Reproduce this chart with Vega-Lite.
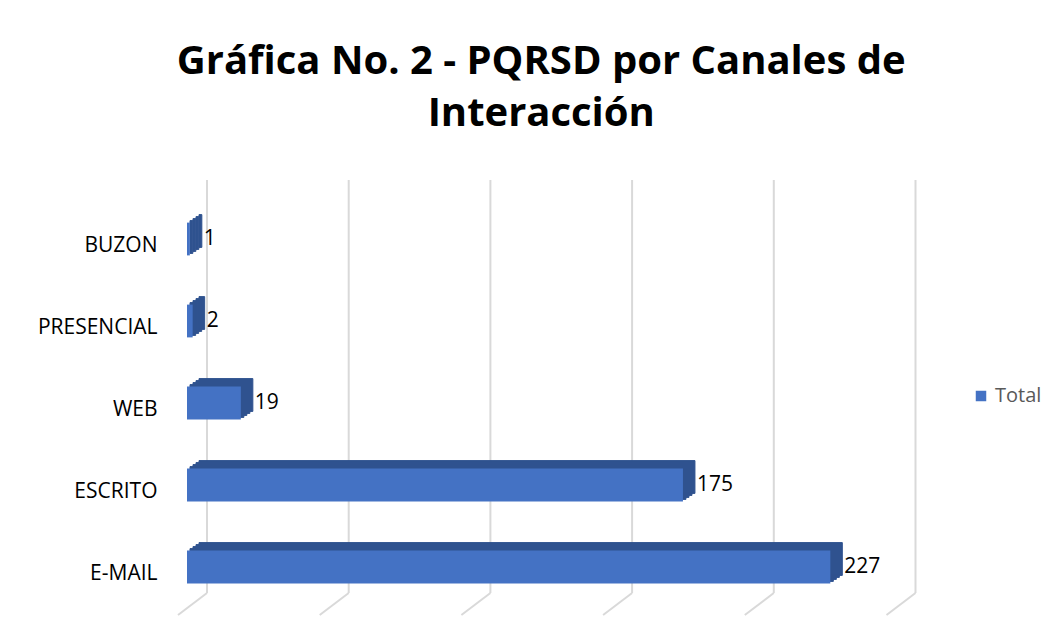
{
  "$schema": "https://vega.github.io/schema/vega-lite/v6.json",
  "width": 708.5,
  "height": 410,
  "autosize": {"type": "none"},
  "padding": {"left": 187, "top": 198, "right": 166.5, "bottom": 36},
  "background": "white",
  "config": {"view": {"stroke": null}, "font": "Open Sans"},
  "title": {
    "text": ["Gráfica No. 2 - PQRSD por Canales de", "Interacción"],
    "font": "Open Sans",
    "fontSize": 40,
    "fontWeight": "bold",
    "color": "#000000",
    "anchor": "middle",
    "frame": "group",
    "lineHeight": 52,
    "offset": 45
  },
  "datasets": {
    "canales": [
      {"canal": "BUZON", "total": 1},
      {"canal": "PRESENCIAL", "total": 2},
      {"canal": "WEB", "total": 19},
      {"canal": "ESCRITO", "total": 175},
      {"canal": "E-MAIL", "total": 227}
    ],
    "grid": [{"v": 0}, {"v": 50}, {"v": 100}, {"v": 150}, {"v": 200}, {"v": 250}]
  },
  "layer": [
    {
      "data": {"name": "grid"},
      "layer": [
        {
          "mark": {"type": "rule", "color": "#d9d9d9", "strokeWidth": 2, "xOffset": 20, "x2Offset": 20, "yOffset": -15, "y2Offset": -18},
          "encoding": {
            "x": {"field": "v", "type": "quantitative", "scale": {"domain": [0, 250], "nice": false, "zero": true}, "axis": null},
            "x2": {"field": "v"},
            "y": {"datum": 0, "type": "quantitative", "scale": {"domain": [0, 1]}, "axis": null},
            "y2": {"datum": 1}
          }
        },
        {
          "mark": {"type": "rule", "color": "#d9d9d9", "strokeWidth": 2, "xOffset": 20, "x2Offset": -9, "yOffset": -15, "y2Offset": 7},
          "encoding": {
            "x": {"field": "v", "type": "quantitative"},
            "x2": {"field": "v"},
            "y": {"datum": 0, "type": "quantitative", "scale": {"domain": [0, 1]}, "axis": null},
            "y2": {"datum": 0}
          }
        }
      ]
    },
    {
      "data": {"name": "canales"},
      "encoding": {
        "y": {
          "field": "canal",
          "type": "nominal",
          "sort": ["BUZON", "PRESENCIAL", "WEB", "ESCRITO", "E-MAIL"],
          "scale": {"paddingInner": 0.6, "paddingOuter": 0.3},
          "axis": {
            "title": null,
            "domain": false,
            "ticks": false,
            "labelPadding": 30,
            "labelOffset": 7,
            "labelFont": "Open Sans",
            "labelFontSize": 21,
            "labelColor": "#000000"
          }
        },
        "x": {"field": "total", "type": "quantitative"}
      },
      "layer": [
        {"mark": {"type": "bar", "color": "#2F528F", "stroke": "#2F528F", "strokeWidth": 1, "xOffset": 3, "x2Offset": 3, "yOffset": -2, "y2Offset": -2}},
        {"mark": {"type": "bar", "color": "#2F528F", "stroke": "#2F528F", "strokeWidth": 1, "xOffset": 6, "x2Offset": 6, "yOffset": -4, "y2Offset": -4}},
        {"mark": {"type": "bar", "color": "#2F528F", "stroke": "#2F528F", "strokeWidth": 1, "xOffset": 9, "x2Offset": 9, "yOffset": -6, "y2Offset": -6}},
        {"mark": {"type": "bar", "color": "#2F528F", "stroke": "#2F528F", "strokeWidth": 1, "xOffset": 12, "x2Offset": 12, "yOffset": -8, "y2Offset": -8}},
        {
          "mark": {"type": "bar"},
          "encoding": {
            "color": {
              "datum": "Total",
              "type": "nominal",
              "scale": {"range": ["#4472C4"]},
              "legend": {
                "title": null,
                "orient": "none",
                "legendX": 784,
                "legendY": 188,
                "symbolType": "square",
                "symbolSize": 110,
                "symbolStrokeWidth": 0,
                "labelFont": "Open Sans",
                "labelFontSize": 20,
                "labelColor": "#595959",
                "labelOffset": 4
              }
            }
          }
        },
        {
          "mark": {"type": "text", "align": "left", "baseline": "middle", "dx": 14, "font": "Open Sans", "fontSize": 21, "color": "#000000"},
          "encoding": {"text": {"field": "total", "type": "quantitative"}}
        }
      ]
    }
  ],
  "resolve": {"scale": {"y": "independent"}}
}
